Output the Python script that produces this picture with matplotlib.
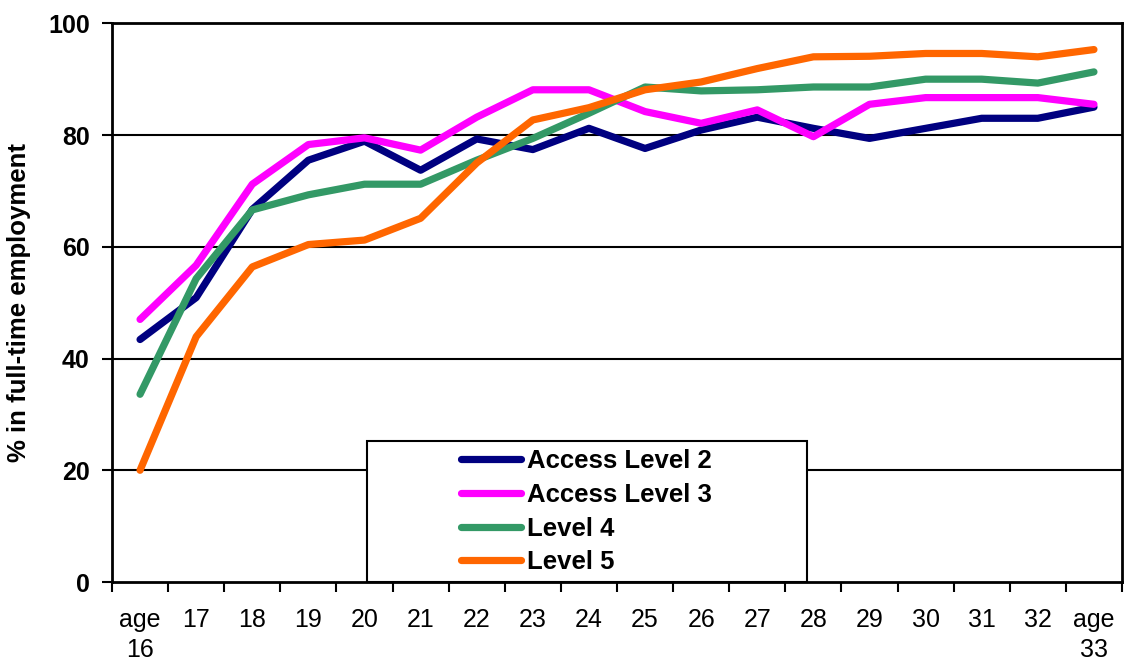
import matplotlib
matplotlib.use("Agg")
import matplotlib.pyplot as plt
from matplotlib.patches import Rectangle

categories = ["age\n16", "17", "18", "19", "20", "21", "22", "23", "24", "25",
              "26", "27", "28", "29", "30", "31", "32", "age\n33"]
access_level_2 = [43.4, 50.9, 66.7, 75.5, 78.9, 73.7, 79.3, 77.4, 81.2, 77.6,
                  80.9, 83.2, 81.2, 79.4, 81.2, 83.0, 83.0, 85.0]
access_level_3 = [47.0, 56.7, 71.2, 78.3, 79.5, 77.3, 83.2, 88.1, 88.1, 84.2,
                  82.1, 84.5, 79.7, 85.5, 86.7, 86.7, 86.7, 85.5]
level_4 = [33.6, 54.3, 66.6, 69.3, 71.2, 71.2, 75.5, 79.4, 83.9, 88.6,
           87.9, 88.1, 88.6, 88.6, 90.0, 90.0, 89.3, 91.3]
level_5 = [20.0, 43.9, 56.4, 60.4, 61.2, 65.1, 75.0, 82.7, 84.9, 88.1,
           89.5, 91.9, 94.0, 94.1, 94.6, 94.6, 94.0, 95.3]
series_names = ["Access Level 2", "Access Level 3", "Level 4", "Level 5"]
colors = ["#000080", "#FF00FF", "#339966", "#FF6600"]
y_ticks = [0, 20, 40, 60, 80, 100]

plt.rcParams['font.family'] = ['Liberation Sans', 'DejaVu Sans']

fig = plt.figure(figsize=(11.28, 6.66), dpi=100)
ax = fig.add_axes([112/1128, 1-582/666, 1010/1128, (582-23.3)/666])

x = list(range(len(categories)))
for vals, name, c in zip([access_level_2, access_level_3, level_4, level_5], series_names, colors):
    ax.plot(x, vals, color=c, lw=5.2, solid_capstyle='round', solid_joinstyle='round', label=name, zorder=3)

ax.set_xlim(-0.5, len(categories) - 0.5)
ax.set_ylim(0, 100)
ax.set_yticks(y_ticks)
ax.set_yticklabels([str(v) for v in y_ticks], fontsize=18, fontweight='bold')
for v in y_ticks[1:-1]:
    ax.axhline(v, color='black', lw=1.5, zorder=1)

ax.set_xticks(x)
ax.set_xticklabels(categories, fontsize=18, linespacing=1.3)
ax.set_xticks([i - 0.5 for i in range(len(categories) + 1)], minor=True)
ax.tick_params(axis='x', which='major', length=0, pad=19)
ax.tick_params(axis='x', which='minor', length=7, width=1.5, direction='out')
ax.tick_params(axis='y', length=7, width=1.5, direction='out', pad=9)
for s in ax.spines.values():
    s.set_linewidth(2)
    s.set_color('black')

ax.set_ylabel("% in full-time employment", fontsize=18.5, fontweight='bold', labelpad=12)

# legend frame
ax.add_patch(Rectangle(((367-112)/1010, 0), (807-367)/1010, (582-441)/(582-23.3),
                       transform=ax.transAxes, facecolor='white', edgecolor='black',
                       lw=1.5, zorder=4, clip_on=False))
leg = ax.legend(loc='upper left', bbox_to_anchor=(461/1128, 1-449/666), bbox_transform=fig.transFigure,
                frameon=False, borderpad=0, borderaxespad=0, handlelength=2.35, handletextpad=0.2,
                labelspacing=0.38, prop={'size': 18.5, 'weight': 'bold'})
leg.set_zorder(5)
for h in leg.get_lines():
    h.set_linewidth(5.2)

fig.savefig("out.png", dpi=100)
